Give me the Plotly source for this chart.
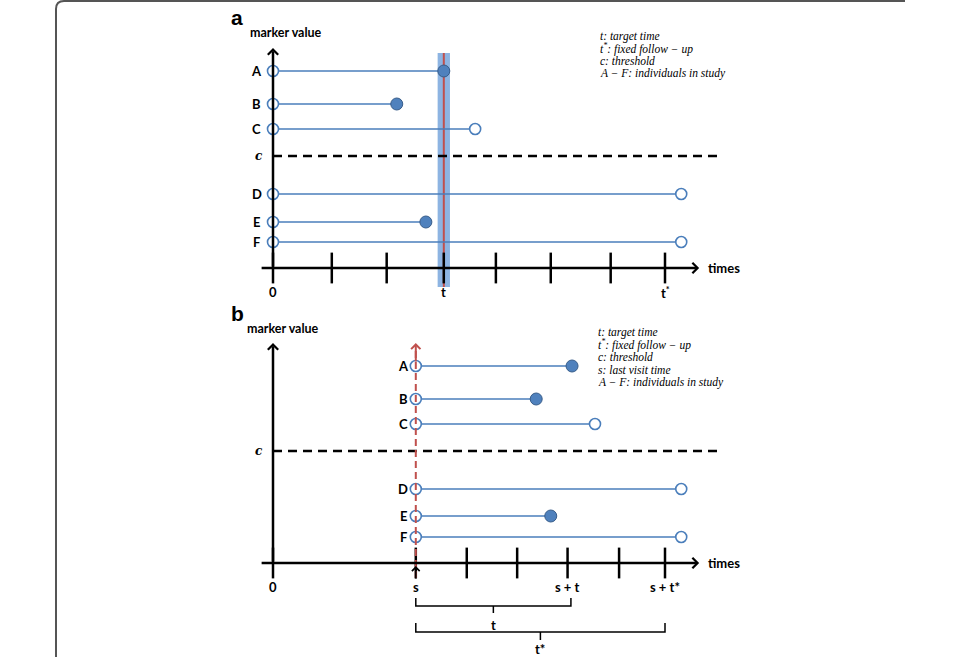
import plotly.graph_objects as go

# ---------------- data ----------------
rows = ["A", "B", "C", "D", "E", "F"]

# panel a
a_marker_values = [19.7, 16.4, 13.9, 7.4, 4.6, 2.6]
a_threshold = 11.2
a_start_time = 0.0
a_end_time = [3.05, 2.21, 3.61, 7.29, 2.73, 7.29]
a_event = [True, True, False, False, True, False]
a_tick_times = [0, 1.05, 2.03, 3.05, 3.98, 4.96, 6.03, 7.0]
a_tick_labels = ["0", "", "", "t", "", "", "", "t<sup>*</sup>"]
t_target = 3.05

# panel b
b_marker_values = [19.7, 16.4, 13.9, 7.4, 4.7, 2.6]
b_threshold = 11.2
s_last = 2.55
b_end_time = [5.34, 4.70, 5.75, 7.29, 4.96, 7.29]
b_event = [True, True, False, False, True, False]
b_tick_times = [0, 2.55, 3.46, 4.36, 5.26, 6.18, 7.0]
b_tick_labels = ["0", "s", "", "", "s + t", "", "s + t*"]
s_plus_t = 5.26
s_plus_tstar = 7.0

legend_a = ["t: target time", "t<sup>*</sup>: fixed follow − up", "c: threshold",
            "A − F: individuals in study"]
legend_b = ["t: target time", "t<sup>*</sup>: fixed follow − up", "c: threshold",
            "s: last visit time", "A − F: individuals in study"]

# ---------------- styles ----------------
W, H = 960, 657
LINE_BLUE = "#4a7ebb"
FILL_BLUE = "#4f81bd"
EDGE_BLUE = "#385d8a"
RED = "#c0504d"
BAND = "#8db4e2"
LBL_FONT = dict(family="Lato, Open Sans, Arial", size=13, color="black")
SERIF = dict(family="Liberation Serif, DejaVu Serif, serif", size=11.5, color="black")

X_RANGE = [-273 / 56, (W - 273) / 56]
AXIS_X_MIN, AXIS_X_MAX = -0.23, 7.61
DASH_X_MAX = 7.98
Y_TIP = 22.0

fig = go.Figure()


def add_panel(xa, ya, values, thr, starts, ends, events, tick_t, tick_lbl, label_dx):
    xr = xa
    fig.add_trace(go.Scatter(x=[0, DASH_X_MAX], y=[thr, thr], mode="lines",
                             line=dict(color="black", width=2.5, dash="9px,6px"),
                             xaxis=xr, yaxis=ya, hoverinfo="skip"))
    for i, r in enumerate(rows):
        fig.add_trace(go.Scatter(x=[starts[i], ends[i]], y=[values[i], values[i]], mode="lines",
                                 line=dict(color=LINE_BLUE, width=1.5),
                                 xaxis=xr, yaxis=ya, hoverinfo="skip"))
    fig.add_trace(go.Scatter(x=starts, y=values, mode="markers",
                             marker=dict(symbol="circle", size=11, color="white",
                                         line=dict(color=LINE_BLUE, width=1.6)),
                             xaxis=xr, yaxis=ya, hoverinfo="skip"))
    ev_x = [e for e, f in zip(ends, events) if f]
    ev_y = [v for v, f in zip(values, events) if f]
    ce_x = [e for e, f in zip(ends, events) if not f]
    ce_y = [v for v, f in zip(values, events) if not f]
    fig.add_trace(go.Scatter(x=ev_x, y=ev_y, mode="markers",
                             marker=dict(symbol="circle", size=12, color=FILL_BLUE,
                                         line=dict(color=EDGE_BLUE, width=1)),
                             xaxis=xr, yaxis=ya, hoverinfo="skip"))
    fig.add_trace(go.Scatter(x=ce_x, y=ce_y, mode="markers",
                             marker=dict(symbol="circle", size=11, color="white",
                                         line=dict(color=LINE_BLUE, width=1.6)),
                             xaxis=xr, yaxis=ya, hoverinfo="skip"))
    fig.add_trace(go.Scatter(x=tick_t, y=[0] * len(tick_t), mode="markers",
                             marker=dict(symbol="line-ns", size=22,
                                         line=dict(color="black", width=2.5)),
                             xaxis=xr, yaxis=ya, hoverinfo="skip"))
    for i, r in enumerate(rows):
        fig.add_annotation(x=starts[i] - label_dx, y=values[i], xref=xr, yref=ya,
                           text="<b>%s</b>" % r, showarrow=False,
                           font=dict(LBL_FONT, size=13), xanchor="center", yanchor="middle")
    for t, lbl in zip(tick_t, tick_lbl):
        if lbl:
            fig.add_annotation(x=t, y=-2.4, xref=xr, yref=ya, text="<b>%s</b>" % lbl,
                               showarrow=False, font=LBL_FONT, yanchor="middle")
    fig.add_annotation(x=-0.25, y=thr, xref=xr, yref=ya, text="<b><i>c</i></b>",
                       showarrow=False,
                       font=dict(family="DejaVu Serif, serif", size=12, color="black"),
                       yanchor="middle")
    axr = "x" if xr == "x" else "x2"
    ayr = "y" if ya == "y" else "y2"
    fig.add_annotation(x=AXIS_X_MAX, y=0, ax=AXIS_X_MIN, ay=0, xref=xr, yref=ya,
                       axref=axr, ayref=ayr, text="", showarrow=True, arrowhead=4,
                       arrowsize=0.8, arrowwidth=2.5, arrowcolor="black")
    fig.add_annotation(x=0, y=Y_TIP, ax=0, ay=0, xref=xr, yref=ya,
                       axref=axr, ayref=ayr, text="", showarrow=True, arrowhead=4,
                       arrowsize=0.8, arrowwidth=2.5, arrowcolor="black")
    fig.add_annotation(x=AXIS_X_MAX + 0.12, y=0, xref=xr, yref=ya, text="<b>times</b>",
                       showarrow=False, font=dict(LBL_FONT, size=13), xanchor="left",
                       yanchor="middle")


# ---- panel a ----
fig.add_shape(type="rect", x0=t_target - 0.11, x1=t_target + 0.11, y0=-1.9, y1=21.5,
              xref="x", yref="y", fillcolor=BAND, line=dict(width=0), layer="below")
fig.add_shape(type="line", x0=t_target, x1=t_target, y0=-1.9, y1=21.5,
              xref="x", yref="y", line=dict(color=RED, width=2), layer="below")

add_panel("x", "y", a_marker_values, a_threshold, [a_start_time] * 6, a_end_time, a_event,
          a_tick_times, a_tick_labels, 0.29)

# ---- panel b ----
add_panel("x2", "y2", b_marker_values, b_threshold, [s_last] * 6, b_end_time, b_event,
          b_tick_times, b_tick_labels, 0.22)

fig.add_trace(go.Scatter(x=[s_last, s_last], y=[-1.5, 21.3], mode="lines",
                         line=dict(color=RED, width=2, dash="7px,4px"),
                         xaxis="x2", yaxis="y2", hoverinfo="skip"))
fig.add_annotation(x=s_last, y=Y_TIP, ax=s_last, ay=20.0, xref="x2", yref="y2",
                   axref="x2", ayref="y2", text="", showarrow=True, arrowhead=4,
                   arrowsize=0.9, arrowwidth=2, arrowcolor=RED)
fig.add_annotation(x=s_last, y=-0.3, ax=s_last, ay=-1.7, xref="x2", yref="y2",
                   axref="x2", ayref="y2", text="", showarrow=True, arrowhead=4,
                   arrowsize=1, arrowwidth=1.5, arrowcolor="black")


def bracket(x0, x1, ytop, ybar, ynotch):
    mid = (x0 + x1) / 2
    fig.add_trace(go.Scatter(x=[x0, x0, mid, mid, mid, x1, x1],
                             y=[ytop, ybar, ybar, ynotch, ybar, ybar, ytop], mode="lines",
                             line=dict(color="black", width=1.5),
                             xaxis="x2", yaxis="y2", hoverinfo="skip"))
    return mid


m1 = bracket(s_last, s_plus_t + 0.06, -3.5, -4.3, -5.0)
fig.add_annotation(x=m1, y=-6.2, xref="x2", yref="y2", text="<b>t</b>", showarrow=False,
                   font=LBL_FONT)
m2 = bracket(s_last, s_plus_tstar, -6.0, -6.9, -7.7)
fig.add_annotation(x=m2, y=-8.6, xref="x2", yref="y2", text="<b>t*</b>", showarrow=False,
                   font=LBL_FONT)

for txt, py in [("a", 17), ("b", 313)]:
    fig.add_annotation(x=237 / W, y=1 - py / H, xref="paper", yref="paper",
                       text="<b>%s</b>" % txt, showarrow=False,
                       font=dict(family="Liberation Sans, Arial", size=21, color="black"),
                       xanchor="center", yanchor="middle")
for px, py in [(248, 32), (245, 328)]:
    fig.add_annotation(x=px / W, y=1 - py / H, xref="paper", yref="paper",
                       text="<b>marker value</b>", showarrow=False,
                       font=dict(LBL_FONT, size=12.5), xanchor="left", yanchor="middle")

for i, line in enumerate(legend_a):
    fig.add_annotation(x=598 / W, y=1 - (36 + 12.6 * i) / H, xref="paper", yref="paper",
                       text="<i>%s</i>" % line, showarrow=False, font=SERIF,
                       xanchor="left", yanchor="middle")
for i, line in enumerate(legend_b):
    fig.add_annotation(x=596 / W, y=1 - (332 + 12.5 * i) / H, xref="paper", yref="paper",
                       text="<i>%s</i>" % line, showarrow=False, font=SERIF,
                       xanchor="left", yanchor="middle")

fig.add_shape(type="path",
              path="M %f,%f L %f,%f Q %f,%f %f,%f L %f,%f" % (
                  56 / W, 0.0, 56 / W, 1 - 9 / H, 56 / W, 1 - 1 / H, 64 / W, 1 - 1 / H,
                  905 / W, 1 - 1 / H),
              xref="paper", yref="paper", line=dict(color="#555555", width=2))

split = 1 - 300 / H
hidden = dict(visible=False, showgrid=False, zeroline=False, fixedrange=True)
fig.update_layout(
    width=W, height=H, autosize=False,
    margin=dict(l=0, r=0, t=0, b=0),
    paper_bgcolor="white", plot_bgcolor="white",
    showlegend=False,
    xaxis=dict(hidden, domain=[0, 1], range=X_RANGE, anchor="y"),
    yaxis=dict(hidden, domain=[split, 1], range=[-3.2, 26.8], anchor="x"),
    xaxis2=dict(hidden, domain=[0, 1], range=X_RANGE, anchor="y2"),
    yaxis2=dict(hidden, domain=[0, split], range=[-9.4, 26.3], anchor="x2"),
)

fig.write_html("out.html", config={"displayModeBar": False},
               post_script="document.body.style.margin='0';document.body.style.overflow='hidden';")
